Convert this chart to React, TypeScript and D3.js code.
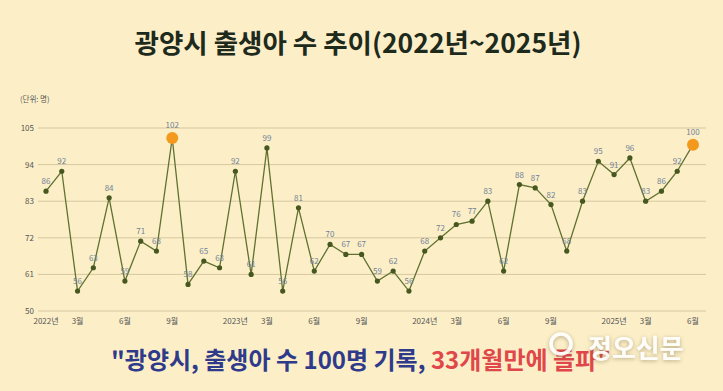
import * as React from "react";
import * as d3 from "d3";

const values2022 = [86, 92, 56, 63, 84, 59, 71, 68, 102, 58, 65, 63];
const values2023 = [92, 61, 99, 56, 81, 62, 70, 67, 67, 59, 62, 56];
const values2024 = [68, 72, 76, 77, 83, 62, 88, 87, 82, 68, 83, 95];
const values2025 = [91, 96, 83, 86, 92, 100];
const years = [2022, 2023, 2024, 2025];
const yTicks = [50, 61, 72, 83, 94, 105];
const highlightIdx = [8, 41];

const W = 723;
const H = 391;

export default function App() {
  const series = [values2022, values2023, values2024, values2025];
  const data: { i: number; year: number; month: number; v: number }[] = [];
  series.forEach((arr, yi) =>
    arr.forEach((v, m) => data.push({ i: data.length, year: years[yi], month: m + 1, v }))
  );

  const x = d3.scaleLinear().domain([0, data.length - 1]).range([46, 693]);
  const y = d3.scaleLinear().domain([50, 105]).range([311, 128]);

  const line = d3
    .line<{ i: number; v: number }>()
    .x((d) => x(d.i))
    .y((d) => y(d.v));

  // only january (year) and 3/6/9 months get a label
  const xLabel = (d: { year: number; month: number }) => {
    if (d.month === 1) return `${d.year}년`;
    if (d.month === 3 || d.month === 6 || d.month === 9) return `${d.month}월`;
    return null;
  };

  const font = "'Noto Sans CJK KR', 'Noto Sans', sans-serif";

  return (
    <svg
      width={W}
      height={H}
      style={{ position: "absolute", left: 0, top: 0, fontFamily: font }}
    >
      <defs>
        <filter id="wm" x="-20%" y="-40%" width="140%" height="180%">
          <feDropShadow dx="0" dy="1" stdDeviation="2" floodColor="#6e5e35" floodOpacity="0.55" />
        </filter>
      </defs>
      <rect width={W} height={H} fill="#fcefc8" />

      <text x={358} y={53} textAnchor="middle" fontSize={26.5} fontWeight={700} fill="#1d2a1c">
        광양시 출생아 수 추이(2022년~2025년)
      </text>

      <text x={20} y={102} fontSize={7.5} fill="#555">
        (단위: 명)
      </text>

      {yTicks.map((t) => (
        <g key={t}>
          <line x1={38} x2={706} y1={y(t)} y2={y(t)} stroke="#d6c79e" strokeWidth={1} />
          <text x={34} y={y(t) + 3} textAnchor="end" fontSize={8} fill="#555">
            {t}
          </text>
        </g>
      ))}

      {data.map((d) => {
        const lab = xLabel(d);
        return lab ? (
          <text key={d.i} x={x(d.i)} y={324} textAnchor="middle" fontSize={8} fill="#555">
            {lab}
          </text>
        ) : null;
      })}

      <path d={line(data) ?? ""} fill="none" stroke="#5f7030" strokeWidth={1.3} />

      {data.map((d) =>
        highlightIdx.includes(d.i) ? (
          <circle key={d.i} cx={x(d.i)} cy={y(d.v)} r={6} fill="#f39a1e" />
        ) : (
          <circle key={d.i} cx={x(d.i)} cy={y(d.v)} r={2.6} fill="#46581f" />
        )
      )}

      {data.map((d) => (
        <text
          key={d.i}
          x={x(d.i)}
          y={y(d.v) - (highlightIdx.includes(d.i) ? 10 : 7)}
          textAnchor="middle"
          fontSize={8}
          fill="#718296"
        >
          {d.v}
        </text>
      ))}

      <text x={361} y={369} textAnchor="middle" fontSize={24} fontWeight={700}>
        <tspan fill="#2f3b8a">"광양시, 출생아 수 100명 기록, </tspan>
        <tspan fill="#e0474a">33개월만에 돌파"</tspan>
      </text>

      <g filter="url(#wm)" opacity={0.92}>
        <circle cx={561} cy={344} r={10} fill="none" stroke="#ffffff" strokeWidth={3.5} />
        <text x={588} y={358} fontSize={26} fontWeight={700} fill="#ffffff">
          정오신문
        </text>
      </g>
    </svg>
  );
}
